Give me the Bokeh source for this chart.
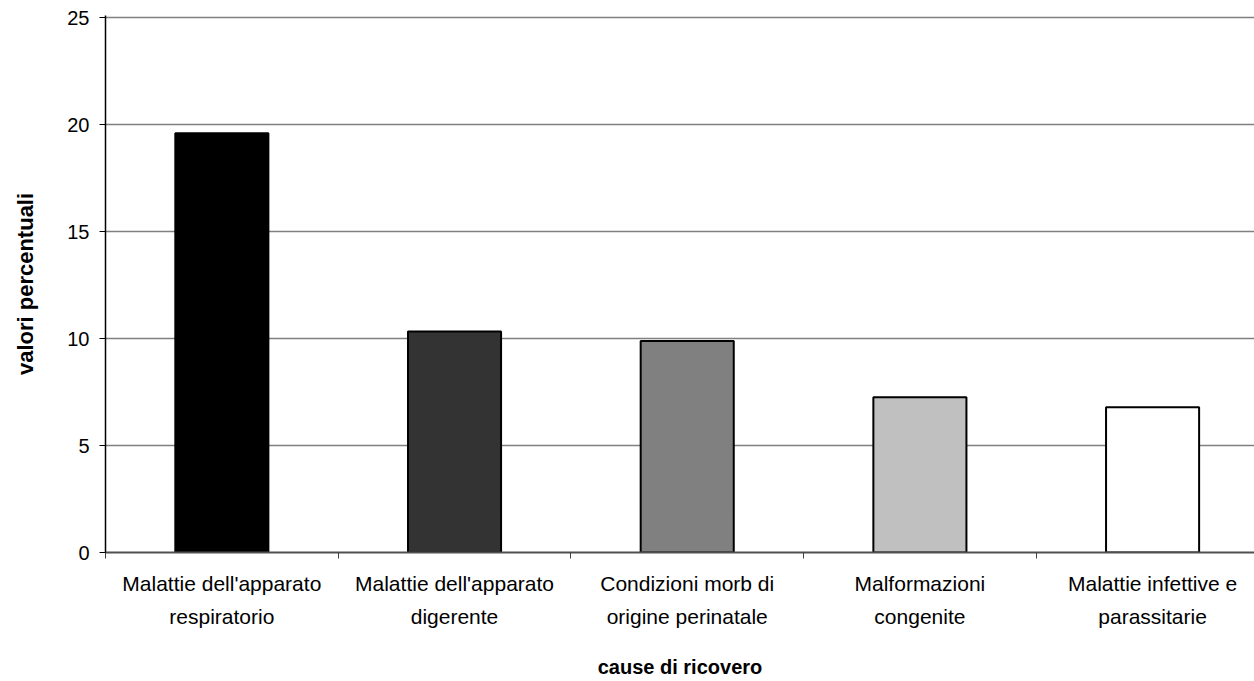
from bokeh.plotting import figure
from bokeh.models import Range1d, FixedTicker, ColumnDataSource
from bokeh.embed import file_html
from bokeh.resources import INLINE

# Causes of hospital admission and their share (percent)
categories = [
    "Malattie dell'apparato\nrespiratorio",
    "Malattie dell'apparato\ndigerente",
    "Condizioni morb di\norigine perinatale",
    "Malformazioni\ncongenite",
    "Malattie infettive e\nparassitarie",
]
values = [19.6, 10.33, 9.88, 7.26, 6.79]
bar_colors = ["#000000", "#333333", "#808080", "#c0c0c0", "#ffffff"]
y_ticks = [0, 5, 10, 15, 20, 25]

FONT = "Liberation Sans"

centers = [i + 0.5 for i in range(len(categories))]
bounds = [float(i) for i in range(len(categories) + 1)]

source = ColumnDataSource(dict(x=centers, top=values, color=bar_colors))

# a touch of headroom above 25 keeps the top grid line inside the frame
p = figure(
    width=1254, height=681,
    output_backend="svg", toolbar_location=None,
    x_range=Range1d(0, 4.938), y_range=Range1d(0, 25.1),
    min_border_left=105, min_border_right=0,
    min_border_top=15, min_border_bottom=129,
)
p.outline_line_color = None
p.background_fill_color = "white"
p.border_fill_color = "white"

p.vbar(x="x", top="top", width=0.4, source=source,
       fill_color="color", line_color="black", line_width=2)

# horizontal grid
p.xgrid.grid_line_color = None
p.ygrid.ticker = FixedTicker(ticks=y_ticks)
p.ygrid.grid_line_color = "#808080"
p.ygrid.grid_line_width = 1.5

# x axis: tick marks between categories, labels centred on each bar
xa = p.xaxis[0]
xa.ticker = FixedTicker(ticks=centers, minor_ticks=bounds)
xa.major_label_overrides = {c: lab for c, lab in zip(centers, categories)}
xa.major_tick_out = 0
xa.major_tick_in = 0
xa.minor_tick_out = 6
xa.minor_tick_in = 0
xa.minor_tick_line_color = "#404040"
xa.axis_line_color = "#505050"
xa.axis_line_width = 2
xa.major_label_text_font = FONT
xa.major_label_text_font_size = "21px"
xa.major_label_text_color = "black"
xa.major_label_text_line_height = 1.45
xa.major_label_standoff = 13
xa.axis_label = "cause di ricovero"
xa.axis_label_text_font = FONT
xa.axis_label_text_font_style = "bold"
xa.axis_label_text_font_size = "20px"
xa.axis_label_text_color = "black"
xa.axis_label_standoff = 25

# y axis
ya = p.yaxis[0]
ya.ticker = FixedTicker(ticks=y_ticks)
ya.major_tick_out = 6
ya.major_tick_in = 0
ya.minor_tick_line_color = None
ya.axis_line_color = "black"
ya.axis_line_width = 1.5
ya.major_tick_line_color = "black"
ya.major_label_text_font = FONT
ya.major_label_text_font_size = "20px"
ya.major_label_text_color = "black"
ya.major_label_standoff = 10
ya.axis_label = "valori percentuali"
ya.axis_label_text_font = FONT
ya.axis_label_text_font_style = "bold"
ya.axis_label_text_font_size = "22px"
ya.axis_label_text_color = "black"
ya.axis_label_standoff = 26

open("out.html", "w").write(file_html(p, INLINE))
